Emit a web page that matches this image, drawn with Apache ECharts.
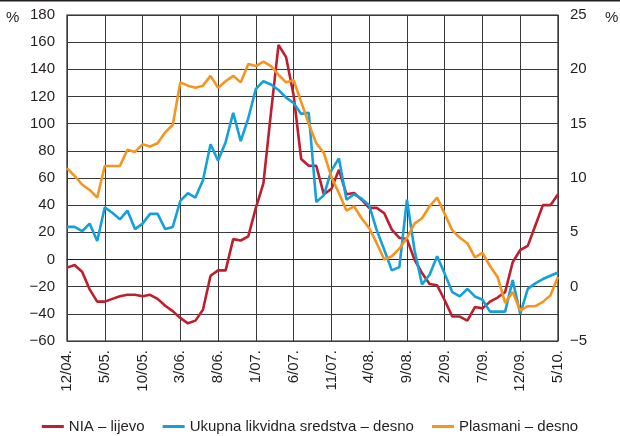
<!DOCTYPE html>
<html>
<head>
<meta charset="utf-8">
<script src="https://cdn.jsdelivr.net/npm/echarts@6/dist/echarts.min.js"></script>
<style>
  html, body { margin: 0; padding: 0; background: #fff; }
  #chart { width: 620px; height: 436px; }
</style>
</head>
<body>
<div id="chart"></div>
<script>
// months 12/04 .. 5/10
const months = [];
for (let y = 2004, m = 12; !(y === 2010 && m === 6); ) {
  months.push(m + '/' + String(y).slice(2) + '.');
  m++;
  if (m > 12) { m = 1; y++; }
}

// NIA, left axis (%)
const nia = [
  -6, -4, -9, -22, -31, -31, -29, -27, -26, -26,
  -27, -26, -29, -34, -38, -43, -47, -45, -37, -12,
  -8, -8, 15, 14, 17, 38, 56, 108, 158, 149,
  121, 74, 69, 69, 48, 52, 66, 48, 49, 44,
  38, 38, 34, 22, 16, 15, 0, -10, -18, -19,
  -30, -42, -42, -45, -35, -36, -31, -28, -24, -2,
  7, 10, 25, 40, 40, 48
];

// Ukupna likvidna sredstva, right axis (%)
const ukupna = [
  5.5, 5.5, 5.1, 5.8, 4.2, 7.3, 6.8, 6.2, 7.0, 5.3,
  5.8, 6.7, 6.7, 5.3, 5.5, 7.9, 8.6, 8.2, 9.8, 13.1,
  11.6, 13.3, 16.0, 13.4, 15.5, 18.2, 18.9, 18.6, 18.1, 17.4,
  16.9, 15.9, 16.0, 7.8, 8.4, 10.7, 11.8, 8.0, 8.5, 8.1,
  7.5, 5.2, 3.4, 1.5, 1.8, 8.0, 3.4, 0.2, 1.1, 2.8,
  1.2, -0.5, -0.9, -0.2, -0.9, -1.2, -2.3, -2.3, -2.3, 0.6,
  -2.5, -0.2, 0.3, 0.7, 1.0, 1.3
];

// Plasmani, right axis (%)
const plasmani = [
  10.9, 10.2, 9.4, 8.9, 8.2, 11.1, 11.1, 11.1, 12.6, 12.4,
  13.1, 12.9, 13.2, 14.2, 14.9, 18.8, 18.5, 18.3, 18.5, 19.4,
  18.3, 18.9, 19.4, 18.8, 20.5, 20.3, 20.7, 20.3, 19.5, 18.8,
  19.0, 17.0, 15.0, 13.2, 12.3, 10.1, 8.6, 7.0, 7.4, 6.3,
  5.4, 4.0, 2.5, 2.8, 3.5, 4.5, 5.8, 6.3, 7.4, 8.2,
  6.7, 5.2, 4.5, 4.0, 2.7, 3.1, 1.9, 0.9, -1.5, -0.5,
  -2.2, -1.8, -1.8, -1.4, -0.8, 0.9
];

const font = '"Liberation Sans", Arial, sans-serif';
const textColor = '#231f20';
const gridColor = '#3a3a3a';

const chart = echarts.init(document.getElementById('chart'));
chart.setOption({
  animation: false,
  textStyle: { fontFamily: font, color: textColor },
  grid: {
    left: 67, right: 62, top: 15, bottom: 95,
    show: true, borderColor: '#231f20', borderWidth: 1.2
  },
  legend: {
    top: 414,
    left: 'center',
    itemWidth: 22, itemHeight: 3, itemGap: 18,
    icon: 'rect',
    textStyle: { fontFamily: font, fontSize: 15, color: textColor },
    data: ['NIA – lijevo', 'Ukupna likvidna sredstva – desno', 'Plasmani – desno']
  },
  xAxis: {
    type: 'category',
    data: months,
    boundaryGap: false,
    axisLine: { lineStyle: { color: '#231f20', width: 1.2 } },
    axisTick: { show: false },
    axisLabel: {
      interval: 4, rotate: 90, fontSize: 15, color: textColor,
      fontFamily: font, margin: 9
    },
    splitLine: { show: true, interval: 4, lineStyle: { color: gridColor, width: 1 } }
  },
  yAxis: [
    {
      type: 'value', min: -60, max: 180, interval: 20,
      axisLine: { show: false }, axisTick: { show: false },
      axisLabel: {
        fontSize: 15, color: textColor, fontFamily: font, margin: 12,
        formatter: v => String(v).replace('-', '\u2212')
      },
      splitLine: { show: true, lineStyle: { color: gridColor, width: 1 } }
    },
    {
      type: 'value', min: -5, max: 25, interval: 2.5,
      axisLine: { show: false }, axisTick: { show: false },
      axisLabel: {
        fontSize: 15, color: textColor, fontFamily: font, margin: 12,
        formatter: v => (v % 5 === 0 ? String(v).replace('-', '\u2212') : '')
      },
      splitLine: { show: false }
    }
  ],
  series: [
    {
      name: 'NIA – lijevo', type: 'line', yAxisIndex: 0, data: nia,
      symbol: 'none', lineStyle: { color: '#be1e2d', width: 2.6 }, itemStyle: { color: '#be1e2d' }
    },
    {
      name: 'Ukupna likvidna sredstva – desno', type: 'line', yAxisIndex: 1, data: ukupna,
      symbol: 'none', lineStyle: { color: '#14a0db', width: 2.6 }, itemStyle: { color: '#14a0db' }
    },
    {
      name: 'Plasmani – desno', type: 'line', yAxisIndex: 1, data: plasmani,
      symbol: 'none', lineStyle: { color: '#f7941d', width: 2.6 }, itemStyle: { color: '#f7941d' }
    }
  ],
  graphic: [
    { type: 'rect', shape: { x: 0, y: 0, width: 620, height: 1.5 }, style: { fill: '#231f20' } },
    { type: 'text', left: 6, top: 10, style: { text: '%', font: '15px ' + font, fill: textColor } },
    { type: 'text', left: 605, top: 10, style: { text: '%', font: '15px ' + font, fill: textColor } }
  ]
});
</script>
</body>
</html>
